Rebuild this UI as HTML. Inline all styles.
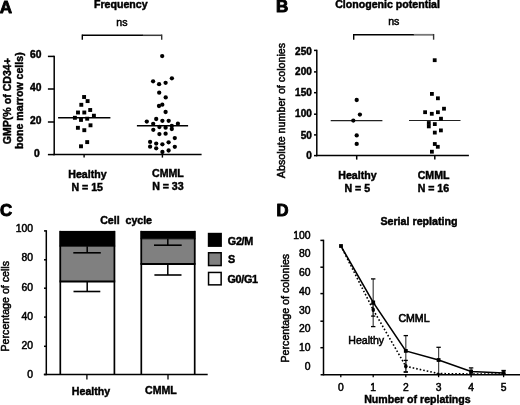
<!DOCTYPE html>
<html><head><meta charset="utf-8"><style>
html,body{margin:0;padding:0;background:#fff;width:520px;height:405px;overflow:hidden}
svg{display:block;font-family:"Liberation Sans", sans-serif;filter:grayscale(1)}

</style></head><body>
<svg width="520" height="405" viewBox="0 0 520 405">
<rect width="520" height="405" fill="#fff"/>
<text x="-0.2" y="12.6" font-size="17.1" font-weight="bold" text-anchor="start" stroke="#000" stroke-width="0.8" stroke-linejoin="round">A</text>
<text x="94.0" y="7.6" font-size="10.6" font-weight="bold" text-anchor="start" stroke="#000" stroke-width="0.45" >Frequency</text>
<text x="116.3" y="25.6" font-size="10.6" font-weight="normal" text-anchor="start" stroke="#000" stroke-width="0.5" >ns</text>
<line x1="82.3" y1="35.3" x2="143" y2="35.3" stroke="#000" stroke-width="1.4" />
<line x1="142.8" y1="35.3" x2="161.7" y2="35.3" stroke="#3a3a3a" stroke-width="1.5" />
<line x1="82.3" y1="34.6" x2="82.3" y2="39.8" stroke="#000" stroke-width="1.4" />
<line x1="161.7" y1="34.6" x2="161.7" y2="39.8" stroke="#333" stroke-width="1.4" />
<line x1="54.2" y1="55.7" x2="54.2" y2="155.3" stroke="#000" stroke-width="1.5" />
<line x1="53.5" y1="154.6" x2="201.6" y2="154.6" stroke="#000" stroke-width="1.5" />
<line x1="47.9" y1="56.4" x2="54.2" y2="56.4" stroke="#000" stroke-width="1.5" />
<text x="41.4" y="58.3" font-size="10.3" font-weight="bold" text-anchor="end" stroke="#000" stroke-width="0.45" >60</text>
<line x1="47.9" y1="89.0" x2="54.2" y2="89.0" stroke="#000" stroke-width="1.5" />
<text x="41.4" y="90.9" font-size="10.3" font-weight="bold" text-anchor="end" stroke="#000" stroke-width="0.45" >40</text>
<line x1="47.9" y1="122.0" x2="54.2" y2="122.0" stroke="#000" stroke-width="1.5" />
<text x="41.4" y="123.9" font-size="10.3" font-weight="bold" text-anchor="end" stroke="#000" stroke-width="0.45" >20</text>
<line x1="47.9" y1="154.6" x2="54.2" y2="154.6" stroke="#000" stroke-width="1.5" />
<text x="39.8" y="156.5" font-size="10.3" font-weight="bold" text-anchor="end" stroke="#000" stroke-width="0.45" >0</text>
<line x1="84.1" y1="154.6" x2="84.1" y2="157.6" stroke="#000" stroke-width="1.4" />
<line x1="162.4" y1="154.6" x2="162.4" y2="157.6" stroke="#000" stroke-width="1.4" />
<text transform="translate(10.9,101.2) rotate(-90)" x="0" y="0" font-size="10.6" font-weight="bold" text-anchor="middle" stroke="#000" stroke-width="0.45">GMP(% of CD34+</text>
<text transform="translate(23.3,100.6) rotate(-90)" x="0" y="0" font-size="10.6" font-weight="bold" text-anchor="middle" stroke="#000" stroke-width="0.45">bone marrow cells)</text>
<line x1="58.1" y1="117.7" x2="110.4" y2="117.7" stroke="#000" stroke-width="1.5" />
<line x1="136.9" y1="125.7" x2="188.1" y2="125.7" stroke="#000" stroke-width="1.5" />
<rect x="82.15" y="95.05" width="3.9" height="3.9" fill="#000" stroke="none" stroke-width="0"/>
<rect x="85.65" y="99.15" width="3.9" height="3.9" fill="#000" stroke="none" stroke-width="0"/>
<rect x="79.35" y="102.85" width="3.9" height="3.9" fill="#000" stroke="none" stroke-width="0"/>
<rect x="88.25" y="108.05" width="3.9" height="3.9" fill="#000" stroke="none" stroke-width="0"/>
<rect x="76.05" y="110.55" width="3.9" height="3.9" fill="#000" stroke="none" stroke-width="0"/>
<rect x="82.35" y="110.55" width="3.9" height="3.9" fill="#000" stroke="none" stroke-width="0"/>
<rect x="91.95" y="113.75" width="3.9" height="3.9" fill="#000" stroke="none" stroke-width="0"/>
<rect x="72.95" y="115.85" width="3.9" height="3.9" fill="#000" stroke="none" stroke-width="0"/>
<rect x="79.05" y="117.95" width="3.9" height="3.9" fill="#000" stroke="none" stroke-width="0"/>
<rect x="85.25" y="116.75" width="3.9" height="3.9" fill="#000" stroke="none" stroke-width="0"/>
<rect x="88.55" y="123.35" width="3.9" height="3.9" fill="#000" stroke="none" stroke-width="0"/>
<rect x="75.95" y="125.85" width="3.9" height="3.9" fill="#000" stroke="none" stroke-width="0"/>
<rect x="82.35" y="128.25" width="3.9" height="3.9" fill="#000" stroke="none" stroke-width="0"/>
<rect x="85.25" y="140.15" width="3.9" height="3.9" fill="#000" stroke="none" stroke-width="0"/>
<rect x="79.05" y="144.35" width="3.9" height="3.9" fill="#000" stroke="none" stroke-width="0"/>
<circle cx="162.2" cy="56.1" r="2.15" fill="#000"/>
<circle cx="171.9" cy="78.3" r="2.15" fill="#000"/>
<circle cx="153.1" cy="81.3" r="2.15" fill="#000"/>
<circle cx="165.6" cy="82.8" r="2.15" fill="#000"/>
<circle cx="159.1" cy="84.2" r="2.15" fill="#000"/>
<circle cx="159.2" cy="92.7" r="2.15" fill="#000"/>
<circle cx="165.7" cy="97.4" r="2.15" fill="#000"/>
<circle cx="162.3" cy="104.7" r="2.15" fill="#000"/>
<circle cx="159.0" cy="106.0" r="2.15" fill="#000"/>
<circle cx="165.6" cy="112.0" r="2.15" fill="#000"/>
<circle cx="156.2" cy="119.0" r="2.15" fill="#000"/>
<circle cx="146.8" cy="121.6" r="2.15" fill="#000"/>
<circle cx="162.4" cy="120.8" r="2.15" fill="#000"/>
<circle cx="168.7" cy="120.8" r="2.15" fill="#000"/>
<circle cx="153.2" cy="123.8" r="2.15" fill="#000"/>
<circle cx="177.9" cy="123.7" r="2.15" fill="#000"/>
<circle cx="159.4" cy="127.0" r="2.15" fill="#000"/>
<circle cx="165.6" cy="127.7" r="2.15" fill="#000"/>
<circle cx="171.8" cy="125.8" r="2.15" fill="#000"/>
<circle cx="171.8" cy="129.0" r="2.15" fill="#000"/>
<circle cx="153.3" cy="129.8" r="2.15" fill="#000"/>
<circle cx="159.4" cy="134.1" r="2.15" fill="#000"/>
<circle cx="165.6" cy="133.7" r="2.15" fill="#000"/>
<circle cx="174.8" cy="138.1" r="2.15" fill="#000"/>
<circle cx="150.1" cy="141.9" r="2.15" fill="#000"/>
<circle cx="156.2" cy="143.6" r="2.15" fill="#000"/>
<circle cx="162.4" cy="144.3" r="2.15" fill="#000"/>
<circle cx="168.6" cy="142.3" r="2.15" fill="#000"/>
<circle cx="150.1" cy="146.7" r="2.15" fill="#000"/>
<circle cx="156.2" cy="148.3" r="2.15" fill="#000"/>
<circle cx="174.8" cy="146.8" r="2.15" fill="#000"/>
<circle cx="162.4" cy="152.0" r="2.15" fill="#000"/>
<circle cx="168.6" cy="150.5" r="2.15" fill="#000"/>
<text x="87.4" y="177.9" font-size="10.6" font-weight="bold" text-anchor="middle" stroke="#000" stroke-width="0.45" >Healthy</text>
<text x="87.2" y="190.6" font-size="10.6" font-weight="bold" text-anchor="middle" stroke="#000" stroke-width="0.45" >N = 15</text>
<text x="167.9" y="177.1" font-size="10.6" font-weight="bold" text-anchor="middle" stroke="#000" stroke-width="0.45" >CMML</text>
<text x="167.9" y="190.3" font-size="10.6" font-weight="bold" text-anchor="middle" stroke="#000" stroke-width="0.45" >N = 33</text>
<text x="275.9" y="12.2" font-size="17.0" font-weight="bold" text-anchor="start" stroke="#000" stroke-width="1.0" stroke-linejoin="round">B</text>
<text x="335.2" y="8.1" font-size="10.6" font-weight="bold" text-anchor="start" stroke="#000" stroke-width="0.45" >Clonogenic potential</text>
<text x="388.2" y="25.0" font-size="10.6" font-weight="normal" text-anchor="start" stroke="#000" stroke-width="0.5" >ns</text>
<line x1="353.7" y1="34.7" x2="414" y2="34.7" stroke="#000" stroke-width="1.4" />
<line x1="413.8" y1="34.8" x2="433.6" y2="34.8" stroke="#777" stroke-width="1.8" />
<line x1="353.7" y1="34.0" x2="353.7" y2="39.7" stroke="#000" stroke-width="1.4" />
<line x1="433.6" y1="34.0" x2="433.6" y2="39.7" stroke="#333" stroke-width="1.4" />
<line x1="316.8" y1="49.7" x2="316.8" y2="156.3" stroke="#000" stroke-width="1.5" />
<line x1="316.1" y1="155.6" x2="468.9" y2="155.6" stroke="#000" stroke-width="1.5" />
<line x1="314.0" y1="50.4" x2="316.8" y2="50.4" stroke="#000" stroke-width="1.5" />
<text x="311.8" y="54.7" font-size="10.0" font-weight="bold" text-anchor="end" stroke="#000" stroke-width="0.45" >250</text>
<line x1="314.0" y1="71.9" x2="316.8" y2="71.9" stroke="#000" stroke-width="1.5" />
<text x="311.8" y="74.8" font-size="10.0" font-weight="bold" text-anchor="end" stroke="#000" stroke-width="0.45" >200</text>
<line x1="314.0" y1="92.7" x2="316.8" y2="92.7" stroke="#000" stroke-width="1.5" />
<text x="311.8" y="96.4" font-size="10.0" font-weight="bold" text-anchor="end" stroke="#000" stroke-width="0.45" >150</text>
<line x1="314.0" y1="114.2" x2="316.8" y2="114.2" stroke="#000" stroke-width="1.5" />
<text x="311.8" y="116.8" font-size="10.0" font-weight="bold" text-anchor="end" stroke="#000" stroke-width="0.45" >100</text>
<line x1="314.0" y1="134.9" x2="316.8" y2="134.9" stroke="#000" stroke-width="1.5" />
<text x="311.8" y="139.3" font-size="10.0" font-weight="bold" text-anchor="end" stroke="#000" stroke-width="0.45" >50</text>
<line x1="314.0" y1="155.6" x2="316.8" y2="155.6" stroke="#000" stroke-width="1.5" />
<text x="311.8" y="159.2" font-size="10.0" font-weight="bold" text-anchor="end" stroke="#000" stroke-width="0.45" >0</text>
<line x1="356.7" y1="155.6" x2="356.7" y2="159.6" stroke="#000" stroke-width="1.5" />
<line x1="434.8" y1="155.6" x2="434.8" y2="159.6" stroke="#000" stroke-width="1.5" />
<text transform="translate(285.2,110.5) rotate(-90)" x="0" y="0" font-size="10.73" font-weight="normal" text-anchor="middle" stroke="#000" stroke-width="0.5">Absolute number of colonies</text>
<line x1="330.7" y1="120.6" x2="382.4" y2="120.6" stroke="#222" stroke-width="1.2" />
<line x1="409.0" y1="120.5" x2="460.5" y2="120.5" stroke="#222" stroke-width="1.2" />
<circle cx="356.7" cy="100.0" r="2.15" fill="#000"/>
<circle cx="359.9" cy="114.6" r="2.15" fill="#000"/>
<circle cx="353.3" cy="120.6" r="2.15" fill="#000"/>
<circle cx="356.7" cy="135.4" r="2.15" fill="#000"/>
<circle cx="356.7" cy="143.9" r="2.15" fill="#000"/>
<rect x="432.8" y="58.3" width="3.8" height="3.8" fill="#000" stroke="none" stroke-width="0"/>
<rect x="430.0" y="92.0" width="3.8" height="3.8" fill="#000" stroke="none" stroke-width="0"/>
<rect x="436.0" y="96.4" width="3.8" height="3.8" fill="#000" stroke="none" stroke-width="0"/>
<rect x="442.1" y="106.8" width="3.8" height="3.8" fill="#000" stroke="none" stroke-width="0"/>
<rect x="423.2" y="110.3" width="3.8" height="3.8" fill="#000" stroke="none" stroke-width="0"/>
<rect x="429.9" y="111.9" width="3.8" height="3.8" fill="#000" stroke="none" stroke-width="0"/>
<rect x="436.0" y="110.3" width="3.8" height="3.8" fill="#000" stroke="none" stroke-width="0"/>
<rect x="439.1" y="116.8" width="3.8" height="3.8" fill="#000" stroke="none" stroke-width="0"/>
<rect x="426.9" y="121.1" width="3.8" height="3.8" fill="#000" stroke="none" stroke-width="0"/>
<rect x="426.9" y="124.5" width="3.8" height="3.8" fill="#000" stroke="none" stroke-width="0"/>
<rect x="432.9" y="122.2" width="3.8" height="3.8" fill="#000" stroke="none" stroke-width="0"/>
<rect x="439.0" y="128.5" width="3.8" height="3.8" fill="#000" stroke="none" stroke-width="0"/>
<rect x="432.9" y="130.7" width="3.8" height="3.8" fill="#000" stroke="none" stroke-width="0"/>
<rect x="432.9" y="142.1" width="3.8" height="3.8" fill="#000" stroke="none" stroke-width="0"/>
<rect x="435.9" y="144.9" width="3.8" height="3.8" fill="#000" stroke="none" stroke-width="0"/>
<rect x="430.0" y="149.8" width="3.8" height="3.8" fill="#000" stroke="none" stroke-width="0"/>
<text x="357.4" y="179.4" font-size="10.6" font-weight="bold" text-anchor="middle" stroke="#000" stroke-width="0.45" >Healthy</text>
<text x="357.3" y="192.1" font-size="10.6" font-weight="bold" text-anchor="middle" stroke="#000" stroke-width="0.45" >N = 5</text>
<text x="433.6" y="179.1" font-size="10.6" font-weight="bold" text-anchor="middle" stroke="#000" stroke-width="0.45" >CMML</text>
<text x="433.4" y="192.1" font-size="10.6" font-weight="bold" text-anchor="middle" stroke="#000" stroke-width="0.45" >N = 16</text>
<text x="0.1" y="215.8" font-size="16.8" font-weight="bold" text-anchor="start" stroke="#000" stroke-width="1.0" stroke-linejoin="round">C</text>
<text x="100.2" y="223.8" font-size="10.6" font-weight="bold" text-anchor="start" stroke="#000" stroke-width="0.45" >Cell&#160; cycle</text>
<rect x="59.5" y="230.9" width="55.7" height="15.299999999999983" fill="#000" stroke="none" stroke-width="0"/>
<rect x="59.5" y="246.2" width="55.7" height="35.30000000000001" fill="#808080" stroke="none" stroke-width="0"/>
<rect x="59.5" y="281.5" width="55.7" height="93.0" fill="#fff" stroke="none" stroke-width="0"/>
<line x1="60.3" y1="230.9" x2="60.3" y2="374.5" stroke="#000" stroke-width="1.7" />
<line x1="114.4" y1="230.9" x2="114.4" y2="374.5" stroke="#000" stroke-width="1.7" />
<line x1="59.5" y1="281.5" x2="115.2" y2="281.5" stroke="#000" stroke-width="2.0" />
<line x1="59.5" y1="246.2" x2="115.2" y2="246.2" stroke="#000" stroke-width="1.0" />
<rect x="140.5" y="230.9" width="55.0" height="7.900000000000006" fill="#000" stroke="none" stroke-width="0"/>
<rect x="140.5" y="238.8" width="55.0" height="25.19999999999999" fill="#808080" stroke="none" stroke-width="0"/>
<rect x="140.5" y="264.0" width="55.0" height="110.5" fill="#fff" stroke="none" stroke-width="0"/>
<line x1="141.3" y1="230.9" x2="141.3" y2="374.5" stroke="#000" stroke-width="1.7" />
<line x1="194.7" y1="230.9" x2="194.7" y2="374.5" stroke="#000" stroke-width="1.7" />
<line x1="140.5" y1="264.0" x2="195.5" y2="264.0" stroke="#000" stroke-width="2.0" />
<line x1="140.5" y1="238.8" x2="195.5" y2="238.8" stroke="#000" stroke-width="1.0" />
<line x1="87.2" y1="246.2" x2="87.2" y2="252.8" stroke="#000" stroke-width="1.5" />
<line x1="73.3" y1="252.8" x2="100.8" y2="252.8" stroke="#000" stroke-width="1.6" />
<line x1="87.2" y1="281.2" x2="87.2" y2="291.5" stroke="#000" stroke-width="1.5" />
<line x1="73.5" y1="291.5" x2="100.3" y2="291.5" stroke="#000" stroke-width="1.6" />
<line x1="167.8" y1="238.8" x2="167.8" y2="245.2" stroke="#000" stroke-width="1.5" />
<line x1="154.0" y1="245.2" x2="181.7" y2="245.2" stroke="#000" stroke-width="1.6" />
<line x1="167.8" y1="264.0" x2="167.8" y2="275.0" stroke="#000" stroke-width="1.5" />
<line x1="154.4" y1="275.0" x2="181.5" y2="275.0" stroke="#000" stroke-width="1.6" />
<line x1="46.3" y1="230.2" x2="46.3" y2="375.2" stroke="#000" stroke-width="1.5" />
<line x1="43.8" y1="374.5" x2="207.7" y2="374.5" stroke="#000" stroke-width="1.5" />
<line x1="44.0" y1="230.9" x2="46.3" y2="230.9" stroke="#000" stroke-width="1.5" />
<text x="33.0" y="232.3" font-size="10.4" font-weight="normal" text-anchor="end" stroke="#000" stroke-width="0.5" >100</text>
<line x1="44.0" y1="259.8" x2="46.3" y2="259.8" stroke="#000" stroke-width="1.5" />
<text x="33.0" y="261.4" font-size="10.4" font-weight="normal" text-anchor="end" stroke="#000" stroke-width="0.5" >80</text>
<line x1="44.0" y1="288.2" x2="46.3" y2="288.2" stroke="#000" stroke-width="1.5" />
<text x="33.0" y="291.0" font-size="10.4" font-weight="normal" text-anchor="end" stroke="#000" stroke-width="0.5" >60</text>
<line x1="44.0" y1="317.1" x2="46.3" y2="317.1" stroke="#000" stroke-width="1.5" />
<text x="33.0" y="319.8" font-size="10.4" font-weight="normal" text-anchor="end" stroke="#000" stroke-width="0.5" >40</text>
<line x1="44.0" y1="346.3" x2="46.3" y2="346.3" stroke="#000" stroke-width="1.5" />
<text x="33.0" y="349.4" font-size="10.4" font-weight="normal" text-anchor="end" stroke="#000" stroke-width="0.5" >20</text>
<line x1="44.0" y1="374.5" x2="46.3" y2="374.5" stroke="#000" stroke-width="1.5" />
<text x="33.0" y="377.8" font-size="10.4" font-weight="normal" text-anchor="end" stroke="#000" stroke-width="0.5" >0</text>
<line x1="86.9" y1="374.5" x2="86.9" y2="379.6" stroke="#000" stroke-width="1.3" />
<line x1="168.0" y1="374.5" x2="168.0" y2="379.6" stroke="#000" stroke-width="1.3" />
<text transform="translate(9.3,306.25) rotate(-90)" x="0" y="0" font-size="10.65" font-weight="normal" text-anchor="middle" stroke="#000" stroke-width="0.5">Percentage of cells</text>
<rect x="207.8" y="232.8" width="14.1" height="14.1" fill="#000" stroke="none" stroke-width="0"/>
<rect x="208.55" y="252.75" width="12.6" height="12.8" fill="#808080" stroke="#000" stroke-width="1.5"/>
<rect x="208.55" y="272.45" width="12.6" height="12.4" fill="#fff" stroke="#000" stroke-width="1.5"/>
<text x="227.8" y="244.8" font-size="10.8" font-weight="bold" text-anchor="start" stroke="#000" stroke-width="0.45" letter-spacing="-0.3">G2/M</text>
<text x="228.0" y="262.7" font-size="10.8" font-weight="bold" text-anchor="start" stroke="#000" stroke-width="0.45" >S</text>
<text x="227.4" y="282.5" font-size="10.8" font-weight="bold" text-anchor="start" stroke="#000" stroke-width="0.45" letter-spacing="-0.3">G0/G1</text>
<text x="91.0" y="394.5" font-size="10.6" font-weight="bold" text-anchor="middle" stroke="#000" stroke-width="0.45" >Healthy</text>
<text x="160.9" y="394.2" font-size="10.6" font-weight="bold" text-anchor="middle" stroke="#000" stroke-width="0.45" >CMML</text>
<text x="276.6" y="215.8" font-size="16.6" font-weight="bold" text-anchor="start" stroke="#000" stroke-width="1.0" stroke-linejoin="round">D</text>
<text x="380.4" y="224.7" font-size="10.7" font-weight="bold" text-anchor="start" stroke="#000" stroke-width="0.45" >Serial replating</text>
<line x1="323.5" y1="239.7" x2="323.5" y2="375.4" stroke="#000" stroke-width="1.5" />
<line x1="320.6" y1="374.7" x2="520" y2="374.7" stroke="#000" stroke-width="1.5" />
<line x1="320.4" y1="240.4" x2="323.5" y2="240.4" stroke="#000" stroke-width="1.5" />
<line x1="320.4" y1="267.2" x2="323.5" y2="267.2" stroke="#000" stroke-width="1.5" />
<line x1="320.4" y1="293.6" x2="323.5" y2="293.6" stroke="#000" stroke-width="1.5" />
<line x1="320.4" y1="321.2" x2="323.5" y2="321.2" stroke="#000" stroke-width="1.5" />
<line x1="320.4" y1="347.7" x2="323.5" y2="347.7" stroke="#000" stroke-width="1.5" />
<text x="310.6" y="238.6" font-size="10.4" font-weight="normal" text-anchor="end" stroke="#000" stroke-width="0.5" >100</text>
<text x="310.6" y="257.1" font-size="10.4" font-weight="normal" text-anchor="end" stroke="#000" stroke-width="0.5" >80</text>
<text x="310.6" y="276.0" font-size="10.4" font-weight="normal" text-anchor="end" stroke="#000" stroke-width="0.5" >60</text>
<text x="310.6" y="294.6" font-size="10.4" font-weight="normal" text-anchor="end" stroke="#000" stroke-width="0.5" >40</text>
<text x="310.6" y="313.6" font-size="10.4" font-weight="normal" text-anchor="end" stroke="#000" stroke-width="0.5" >30</text>
<text x="310.6" y="332.3" font-size="10.4" font-weight="normal" text-anchor="end" stroke="#000" stroke-width="0.5" >20</text>
<text x="310.6" y="351.0" font-size="10.4" font-weight="normal" text-anchor="end" stroke="#000" stroke-width="0.5" >10</text>
<text x="310.6" y="369.6" font-size="10.4" font-weight="normal" text-anchor="end" stroke="#000" stroke-width="0.5" >0</text>
<line x1="340.8" y1="374.7" x2="340.8" y2="377.2" stroke="#000" stroke-width="1.3" />
<text x="340.8" y="391.0" font-size="10.3" font-weight="normal" text-anchor="middle" stroke="#000" stroke-width="0.5" >0</text>
<line x1="373.2" y1="374.7" x2="373.2" y2="377.2" stroke="#000" stroke-width="1.3" />
<text x="373.2" y="391.0" font-size="10.3" font-weight="normal" text-anchor="middle" stroke="#000" stroke-width="0.5" >1</text>
<line x1="405.8" y1="374.7" x2="405.8" y2="377.2" stroke="#000" stroke-width="1.3" />
<text x="405.8" y="391.0" font-size="10.3" font-weight="normal" text-anchor="middle" stroke="#000" stroke-width="0.5" >2</text>
<line x1="438.6" y1="374.7" x2="438.6" y2="377.2" stroke="#000" stroke-width="1.3" />
<text x="438.6" y="391.0" font-size="10.3" font-weight="normal" text-anchor="middle" stroke="#000" stroke-width="0.5" >3</text>
<line x1="471.1" y1="374.7" x2="471.1" y2="377.2" stroke="#000" stroke-width="1.3" />
<text x="471.1" y="391.0" font-size="10.3" font-weight="normal" text-anchor="middle" stroke="#000" stroke-width="0.5" >4</text>
<line x1="503.6" y1="374.7" x2="503.6" y2="377.2" stroke="#000" stroke-width="1.3" />
<text x="503.6" y="391.0" font-size="10.3" font-weight="normal" text-anchor="middle" stroke="#000" stroke-width="0.5" >5</text>
<text x="417.4" y="402.8" font-size="10.6" font-weight="bold" text-anchor="middle" stroke="#000" stroke-width="0.45" >Number of replatings</text>
<text transform="translate(288.7,308.2) rotate(-90)" x="0" y="0" font-size="10.7" font-weight="normal" text-anchor="middle" stroke="#000" stroke-width="0.5">Percentage of colonies</text>
<line x1="373.2" y1="278.9" x2="373.2" y2="326.6" stroke="#4a4a4a" stroke-width="1.25" />
<line x1="371.0" y1="278.9" x2="375.4" y2="278.9" stroke="#000" stroke-width="1.3" />
<line x1="371.0" y1="326.6" x2="375.4" y2="326.6" stroke="#000" stroke-width="1.3" />
<line x1="405.8" y1="335.6" x2="405.8" y2="372.0" stroke="#4a4a4a" stroke-width="1.25" />
<line x1="403.6" y1="335.6" x2="408.0" y2="335.6" stroke="#000" stroke-width="1.3" />
<line x1="403.6" y1="372.0" x2="408.0" y2="372.0" stroke="#000" stroke-width="1.3" />
<line x1="438.6" y1="347.3" x2="438.6" y2="374.0" stroke="#4a4a4a" stroke-width="1.25" />
<line x1="436.40000000000003" y1="347.3" x2="440.8" y2="347.3" stroke="#000" stroke-width="1.3" />
<line x1="436.40000000000003" y1="374.0" x2="440.8" y2="374.0" stroke="#000" stroke-width="1.3" />
<line x1="471.1" y1="367.9" x2="471.1" y2="374.0" stroke="#4a4a4a" stroke-width="1.25" />
<line x1="468.90000000000003" y1="367.9" x2="473.3" y2="367.9" stroke="#000" stroke-width="1.3" />
<line x1="468.90000000000003" y1="374.0" x2="473.3" y2="374.0" stroke="#000" stroke-width="1.3" />
<line x1="503.6" y1="370.5" x2="503.6" y2="374.0" stroke="#4a4a4a" stroke-width="1.25" />
<line x1="501.40000000000003" y1="370.5" x2="505.8" y2="370.5" stroke="#000" stroke-width="1.3" />
<line x1="501.40000000000003" y1="374.0" x2="505.8" y2="374.0" stroke="#000" stroke-width="1.3" />
<line x1="373.2" y1="304.0" x2="373.2" y2="316.1" stroke="#4a4a4a" stroke-width="1.25" />
<line x1="371.09999999999997" y1="304.0" x2="375.3" y2="304.0" stroke="#000" stroke-width="1.3" />
<line x1="371.09999999999997" y1="316.1" x2="375.3" y2="316.1" stroke="#000" stroke-width="1.3" />
<line x1="405.8" y1="360.4" x2="405.8" y2="372.0" stroke="#4a4a4a" stroke-width="1.25" />
<line x1="403.8" y1="360.4" x2="407.8" y2="360.4" stroke="#000" stroke-width="1.3" />
<line x1="403.8" y1="372.0" x2="407.8" y2="372.0" stroke="#000" stroke-width="1.3" />
<polyline points="340.8,245.8 373.2,302.4 405.8,350.9 438.6,360.0 471.1,371.5 503.6,373.0" fill="none" stroke="#000" stroke-width="1.6"/>
<polyline points="340.8,245.8 373.2,309.8 405.8,366.3 438.6,373.6 471.1,374.0 503.6,374.0" fill="none" stroke="#000" stroke-width="1.6" stroke-dasharray="1.6 2.0"/>
<rect x="339.1" y="244.1" width="3.8" height="3.8" fill="#000" stroke="none" stroke-width="0"/>
<rect x="371.3" y="300.5" width="3.8" height="3.8" fill="#000" stroke="none" stroke-width="0"/>
<rect x="403.9" y="349.0" width="3.8" height="3.8" fill="#000" stroke="none" stroke-width="0"/>
<rect x="436.7" y="358.1" width="3.8" height="3.8" fill="#000" stroke="none" stroke-width="0"/>
<rect x="469.2" y="369.6" width="3.8" height="3.8" fill="#000" stroke="none" stroke-width="0"/>
<rect x="501.7" y="371.1" width="3.8" height="3.8" fill="#000" stroke="none" stroke-width="0"/>
<ellipse cx="373.2" cy="309.8" rx="1.7" ry="2.2" fill="#000"/>
<ellipse cx="405.8" cy="366.3" rx="1.7" ry="2.2" fill="#000"/>
<text x="414.0" y="321.9" font-size="10.6" font-weight="normal" text-anchor="middle" stroke="#000" stroke-width="0.6" >CMML</text>
<text x="366.2" y="343.5" font-size="10.6" font-weight="normal" text-anchor="middle" stroke="#000" stroke-width="0.5" >Healthy</text>
</svg>
</body></html>
